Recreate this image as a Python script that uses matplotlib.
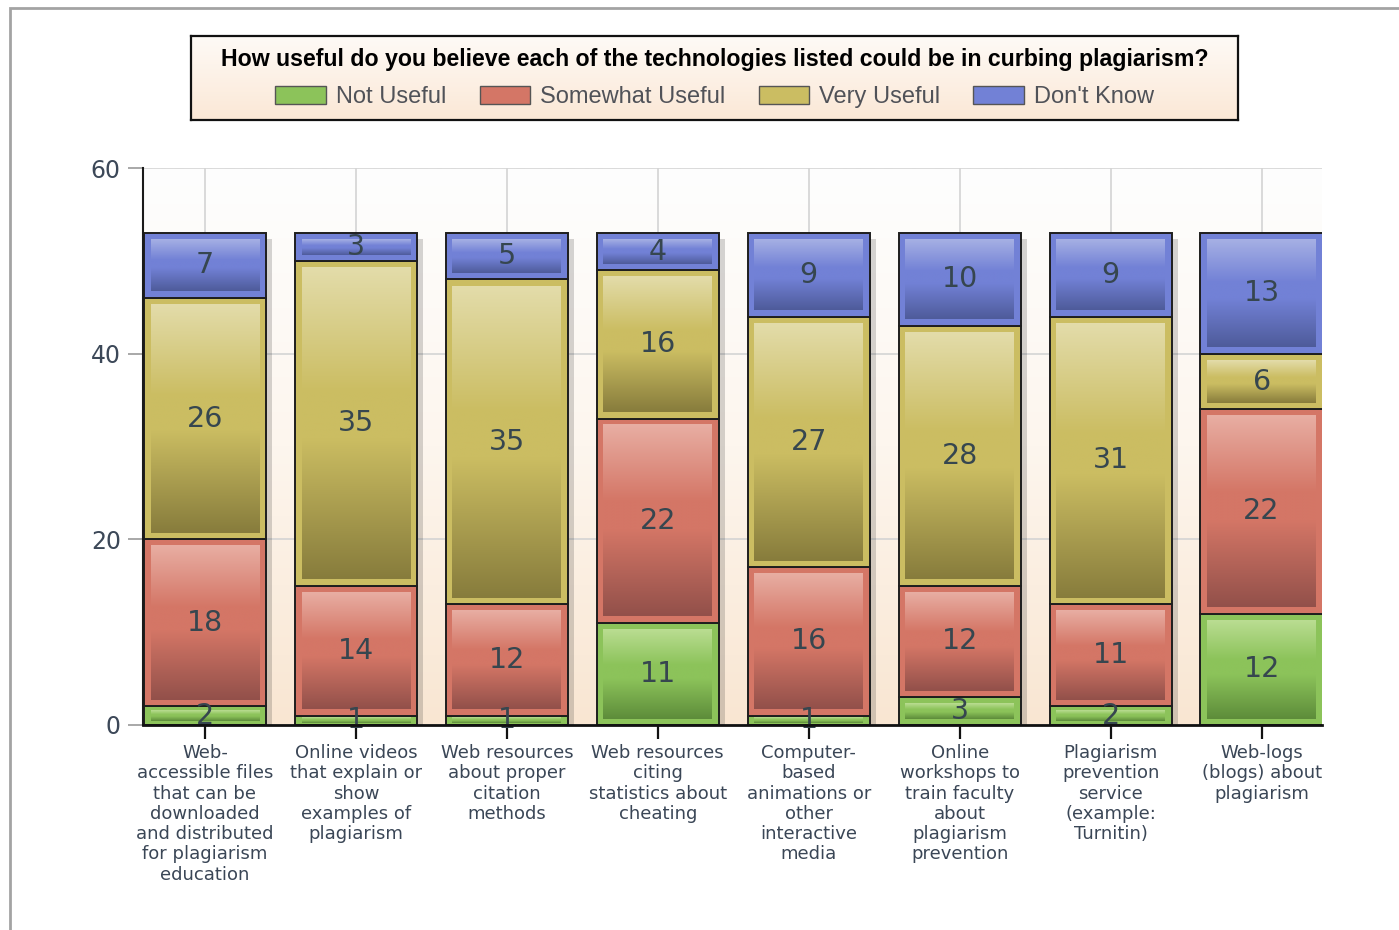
import numpy as np
import matplotlib
matplotlib.use("Agg")
import matplotlib.pyplot as plt
from matplotlib.colors import LinearSegmentedColormap
from matplotlib.patches import Rectangle, Patch

# ---------------- data ----------------
categories = [
    "Web-\naccessible files\nthat can be\ndownloaded\nand distributed\nfor plagiarism\neducation",
    "Online videos\nthat explain or\nshow\nexamples of\nplagiarism",
    "Web resources\nabout proper\ncitation\nmethods",
    "Web resources\nciting\nstatistics about\ncheating",
    "Computer-\nbased\nanimations or\nother\ninteractive\nmedia",
    "Online\nworkshops to\ntrain faculty\nabout\nplagiarism\nprevention",
    "Plagiarism\nprevention\nservice\n(example:\nTurnitin)",
    "Web-logs\n(blogs) about\nplagiarism",
]
not_useful = [2, 1, 1, 11, 1, 3, 2, 12]
somewhat_useful = [18, 14, 12, 22, 16, 12, 11, 22]
very_useful = [26, 35, 35, 16, 27, 28, 31, 6]
dont_know = [7, 3, 5, 4, 9, 10, 9, 13]
series_names = ["Not Useful", "Somewhat Useful", "Very Useful", "Don't Know"]
title = "How useful do you believe each of the technologies listed could be in curbing plagiarism?"
yticks = [0, 20, 40, 60]

# ---------------- style ----------------
base_colors = ["#8cc35a", "#d47666", "#cbbd62", "#7281d6"]
light_colors = ["#badd92", "#e8aea3", "#e3dcaa", "#a6b0e4"]
dark_colors = ["#5d8c3a", "#92504a", "#877c3c", "#4e5b9a"]

fig = plt.figure(figsize=(13.99, 9.30), dpi=100)
fig.patch.set_facecolor("white")

W, H = 1399, 930
ax = fig.add_axes([143 / W, 1 - 725 / H, (1322 - 143) / W, (725 - 168) / H])

x = np.arange(len(categories))
width = 0.81
xl = (-0.41, 7.40)
yl = (0, 60)

# background gradient
bg_cmap = LinearSegmentedColormap.from_list("bg", [(0, "#f9e6d2"), (0.5, "#fdf6ee"), (1, "#fefefe")])
ax.imshow(np.linspace(0, 1, 256).reshape(-1, 1), extent=[xl[0], xl[1], yl[0], yl[1]],
          origin="lower", cmap=bg_cmap, aspect="auto", zorder=0, interpolation="bilinear")

series = [not_useful, somewhat_useful, very_useful, dont_know]
totals = np.sum(np.array(series), axis=0)

# shadows
ax.bar(x + 0.04, totals - 0.7, width=width, bottom=0, color="#000000", alpha=0.16,
       zorder=0.8, linewidth=0)

bottoms = np.zeros(len(categories))
grad = np.linspace(0, 1, 256).reshape(-1, 1)
for i, vals in enumerate(series):
    bars = ax.bar(x, vals, width=width, bottom=bottoms, color=base_colors[i],
                  edgecolor="#1e1e1e", linewidth=1.4, zorder=2)
    cmap = LinearSegmentedColormap.from_list(
        f"g{i}", [(0, dark_colors[i]), (0.45, base_colors[i]), (0.6, base_colors[i]), (1, light_colors[i])])
    for p, v in zip(bars.patches, vals):
        x0, y0, w, h = p.get_x(), p.get_y(), p.get_width(), p.get_height()
        dx = 0.045
        dy = min(0.7, 0.22 * h)
        ax.imshow(grad, extent=[x0 + dx, x0 + w - dx, y0 + dy, y0 + h - dy], origin="lower",
                  cmap=cmap, aspect="auto", zorder=2.1, interpolation="bilinear")
        ax.text(x0 + w / 2, y0 + h / 2, str(v), ha="center", va="center", fontsize=20.5,
                color="#36464f", family="DejaVu Sans", zorder=3)
    bottoms = bottoms + np.array(vals)

ax.set_xlim(*xl)
ax.set_ylim(*yl)

ax.set_axisbelow(True)
ax.grid(True, color="#d4d4d4", linewidth=1.2)
for s in ["top", "right"]:
    ax.spines[s].set_visible(False)
ax.spines["left"].set_color("#1a1a1a")
ax.spines["left"].set_linewidth(1.5)
ax.spines["bottom"].set_color("#111111")
ax.spines["bottom"].set_linewidth(2)
ax.spines["bottom"].set_zorder(4)

ax.set_xticks(x)
ax.set_xticklabels(categories, fontsize=13, family="DejaVu Sans", color="#3a4656",
                   linespacing=1.16, va="top")
ax.set_yticks(yticks)
ax.set_yticklabels([str(t) for t in yticks], fontsize=17, family="DejaVu Sans", color="#3c4858")
ax.tick_params(axis="x", length=10, width=1.6, color="#111111", pad=3.8)
ax.tick_params(axis="y", length=11, width=1.2, color="#9a9a9a", pad=5)

# legend box
lax = fig.add_axes([191 / W, 1 - 120 / H, (1238 - 191) / W, 84 / H])
lg_cmap = LinearSegmentedColormap.from_list("lg", [(0, "#fbe8d6"), (1, "#fefaf6")])
lax.imshow(np.linspace(0, 1, 64).reshape(-1, 1), extent=[0, 1, 0, 1], origin="lower",
           cmap=lg_cmap, aspect="auto", interpolation="bilinear")
lax.set_xlim(0, 1)
lax.set_ylim(0, 1)
lax.set_xticks([])
lax.set_yticks([])
for s in lax.spines.values():
    s.set_color("#111111")
    s.set_linewidth(1.6)

handles = [Patch(facecolor=c, edgecolor="#555555", linewidth=1.0) for c in base_colors]
leg = lax.legend(handles, series_names, ncol=4, loc="center", bbox_to_anchor=(0.5, 0.5),
                 frameon=False, title=title,
                 prop={"family": "Liberation Sans", "size": 17},
                 title_fontproperties={"family": "Liberation Sans", "size": 16.7, "weight": "bold"},
                 handlelength=2.15, handleheight=0.8, handletextpad=0.4, columnspacing=1.42,
                 labelspacing=0.65, borderpad=0.2)
for t in leg.get_texts():
    t.set_color("#505258")

# outer frame
fig.add_artist(Rectangle((10 / W, -0.05), 1.2, 1 - 8 / H + 0.05, transform=fig.transFigure,
                         fill=False, edgecolor="#a3a3a3", linewidth=2))

fig.savefig("out.png", dpi=100, facecolor="white")
